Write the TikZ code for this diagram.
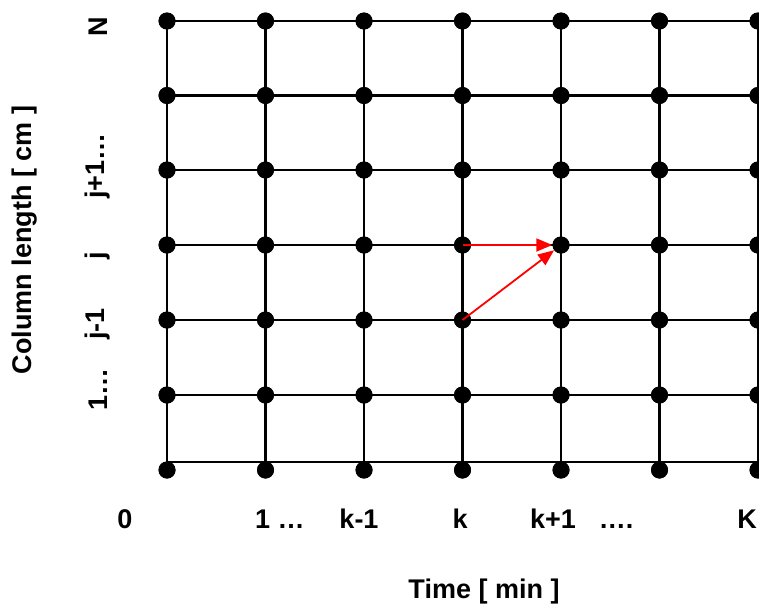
\documentclass[tikz,border=0pt]{standalone}
\usepackage{fontspec}
\setmainfont{Liberation Sans}
\usetikzlibrary{arrows.meta}
\begin{document}
\begin{tikzpicture}[x=1pt,y=-1pt,
  gridline/.style={line width=2.2pt,black},
  dot/.style={circle,fill=black,inner sep=0pt,minimum size=17pt},
  redarrow/.style={line width=1.8pt,red,-{Triangle[length=16pt,width=13pt]}},
  lbl/.style={font=\fontsize{27}{32}\selectfont\bfseries,inner sep=0pt},
  vlbl/.style={lbl,rotate=90}]
\useasboundingbox (0,0) rectangle (759,608);
% column x and row y
\def\colx{{167,265.5,364,462.5,561,659.5,758}}
\def\rowy{{470,395,320,245,170,95.5,21}}
% dot nodes
\foreach \i in {0,...,6}{
  \foreach \j in {0,...,6}{
    \pgfmathsetmacro\xx{\colx[\i]}
    \pgfmathsetmacro\yy{\rowy[\j]}
    \node[dot] (d-\i-\j) at (\xx,\yy) {};
  }
}
% bottom line (slightly above the bottom dots)
\coordinate (bl) at (167,462);
\coordinate (br) at (758,462);
% grid lines
\foreach \j in {1,...,6}{
  \draw[gridline] (d-0-\j.center) -- (d-6-\j.center);
}
\draw[gridline] (bl) -- (br);
\foreach \i in {0,...,6}{
  \draw[gridline] (d-\i-6.center) -- (\colx[\i],462) coordinate (v-\i);
}
% dots drawn on top of the lines
\foreach \i in {0,...,6}{
  \foreach \j in {0,...,6}{
    \fill (d-\i-\j) circle (8.5pt);
  }
}
% red arrows
\draw[redarrow] (d-3-3.center) -- (d-4-3);
\draw[redarrow] (d-3-2.center) -- (d-4-3);
% bottom labels
\node[lbl,anchor=base] (t0) at (125,528) {0};
\node[lbl,anchor=base] (t1) at (280,528) {1 …};
\node[lbl,anchor=base] (tkm) at (359,528) {k-1};
\node[lbl,anchor=base] (tk) at (460,528) {k};
\node[lbl,anchor=base] (tkp) at (553,528) {k+1};
\node[lbl,anchor=base] (tdots) at (616,528) {….};
\node[lbl,anchor=base] (tK) at (747,528) {K};
\node[lbl] (xlab) at (484,592) {Time [ min ]};
% left labels
\node[vlbl] (lN) at (98,27) {N};
\node[vlbl] (ljp) at (98,166) {j+1…};
\node[vlbl] (lj) at (98,256) {j};
\node[vlbl] (ljm) at (98,324) {j-1};
\node[vlbl] (l1) at (98,389) {1…};
\node[vlbl] (ylab) at (25,240) {Column length [ cm ]};
\end{tikzpicture}
\end{document}
